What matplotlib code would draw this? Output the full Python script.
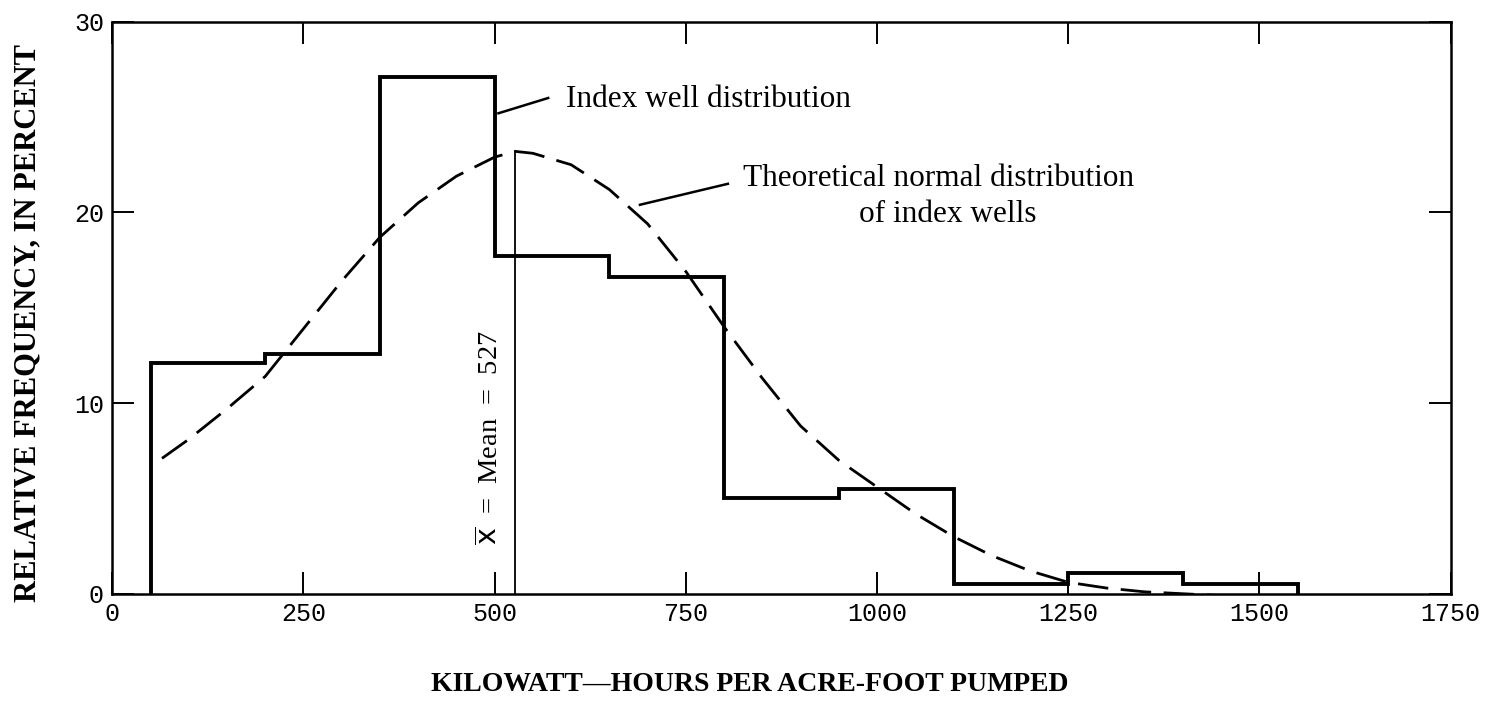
import matplotlib
matplotlib.use("Agg")
from matplotlib import pyplot as plt

# histogram of index wells (bin edges and relative frequency, percent)
binEdges = [50, 200, 350, 500, 650, 800, 950, 1100, 1250, 1400, 1550]
relFreq = [12.1, 12.6, 27.1, 17.7, 16.6, 5.0, 5.5, 0.5, 1.1, 0.5]

# theoretical normal curve
curveX = [65, 100, 150, 200, 250, 300, 350, 400, 450, 500, 527, 550, 600,
          650, 700, 750, 800, 850, 900, 950, 1000, 1050, 1100, 1150, 1200,
          1250, 1300, 1350, 1400, 1450, 1500]
curveY = [7.1, 8.1, 9.7, 11.4, 13.9, 16.4, 18.7, 20.5, 21.9, 22.9, 23.2, 23.1, 22.5,
          21.2, 19.4, 16.9, 14.0, 11.3, 8.8, 7.0, 5.6, 4.2, 3.0, 2.0, 1.2,
          0.6, 0.3, 0.1, 0.0, -0.1, -0.2]

meanValue = 527
xTicks = [0, 250, 500, 750, 1000, 1250, 1500, 1750]
yTicks = [0, 10, 20, 30]

serif = "Liberation Serif"
mono = "Liberation Mono"

fig = plt.figure(figsize=(14.97, 7.01), dpi=100)
ax = fig.add_axes([0.075, 0.153, 0.894, 0.816])

ax.stairs(relFreq, binEdges, baseline=0, color="black", linewidth=2.8)
ax.plot(curveX, curveY, color="black", linewidth=2.0, dashes=(11, 4.5))
ax.plot([meanValue, meanValue], [0, max(curveY)], color="black", linewidth=1.3)

ax.text(494, 8.2, r"$\overline{\rm x}$  =  Mean  =  527", rotation=90,
        ha="center", va="center", fontsize=20.5, family=serif)

# labels with leader lines
ax.plot([505, 570], [25.2, 26.0], color="black", linewidth=1.8)
ax.text(593, 25.9, "Index well distribution", fontsize=22.5, family=serif,
        ha="left", va="center")
ax.plot([690, 805], [20.4, 21.5], color="black", linewidth=1.8)
ax.text(1080, 21.8, "Theoretical normal distribution", fontsize=22.5, family=serif,
        ha="center", va="center")
ax.text(1093, 19.9, "of index wells", fontsize=22.5, family=serif,
        ha="center", va="center")

ax.set_xlim(0, 1750)
ax.set_ylim(0, 30)
ax.set_xticks(xTicks)
ax.set_yticks(yTicks)
ax.set_xticklabels([str(t) for t in xTicks], family=mono, fontsize=18)
ax.set_yticklabels([str(t) for t in yTicks], family=mono, fontsize=18)
ax.tick_params(direction="in", length=16, width=1.4, top=True, right=True, pad=6)
for s in ax.spines.values():
    s.set_linewidth(1.8)

ax.set_xlabel("KILOWATT\u2014HOURS PER ACRE-FOOT PUMPED", family=serif,
              fontweight="bold", fontsize=20)
ax.xaxis.set_label_coords(0.476, -0.137)
ax.set_ylabel("RELATIVE FREQUENCY, IN PERCENT", family=serif,
              fontweight="bold", fontsize=22)
ax.yaxis.set_label_coords(-0.052, 0.474)

plt.savefig("out.png", dpi=100)
plt.close()
